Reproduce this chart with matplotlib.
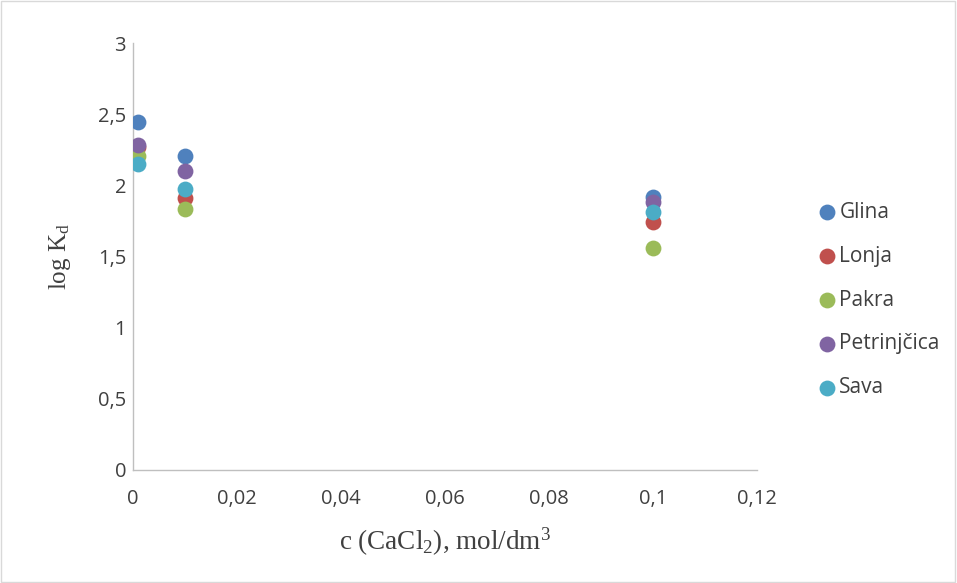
import matplotlib
matplotlib.use('Agg')
import matplotlib.pyplot as plt
from matplotlib.patches import Rectangle
from matplotlib.ticker import FuncFormatter

plt.rcParams['mathtext.fontset'] = 'custom'
plt.rcParams['mathtext.rm'] = 'Liberation Serif'
plt.rcParams['mathtext.it'] = 'Liberation Serif:italic'

# koncentracije CaCl2
c = [0.001, 0.01, 0.1]

glina = [2.445, 2.21, 1.92]
lonja = [2.27, 1.91, 1.74]
pakra = [2.205, 1.835, 1.56]
petrinjcica = [2.285, 2.10, 1.885]
sava = [2.15, 1.972, 1.81]

nazivi = ['Glina', 'Lonja', 'Pakra', 'Petrinjčica', 'Sava']
serije = [glina, lonja, pakra, petrinjcica, sava]
boje = ['#4F81BD', '#C0504D', '#9BBB59', '#8064A2', '#4BACC6']

fig = plt.figure(figsize=(9.57, 5.83), dpi=100)
ax = fig.add_axes([0.139, 0.194, 0.652, 0.732])

for naziv, vrijednosti, boja in zip(nazivi, serije, boje):
    ax.scatter(c, vrijednosti, s=130, color=boja, label=naziv, zorder=3, linewidths=0)

ax.set_xlim(0, 0.12)
ax.set_ylim(0, 3)
ax.set_xticks([0, 0.02, 0.04, 0.06, 0.08, 0.1, 0.12])
ax.set_yticks([0, 0.5, 1, 1.5, 2, 2.5, 3])

def zarez(v, pos):
    s = ('%g' % round(v, 4))
    return s.replace('.', ',')

ax.xaxis.set_major_formatter(FuncFormatter(zarez))
ax.yaxis.set_major_formatter(FuncFormatter(zarez))

for s in ['top', 'right']:
    ax.spines[s].set_visible(False)
for s in ['left', 'bottom']:
    ax.spines[s].set_color('#BFBFBF')
    ax.spines[s].set_linewidth(1)
ax.tick_params(length=0, labelsize=14.5, labelcolor='#404040')
ax.tick_params(axis='x', pad=14)
ax.tick_params(axis='y', pad=5)
for lbl in ax.get_xticklabels() + ax.get_yticklabels():
    lbl.set_family('Open Sans')

ax.set_xlabel('c (CaCl$_2$), mol/dm$^3$', family='Liberation Serif', fontsize=19.5, color='#404040', labelpad=12)
ax.set_ylabel('log K$_\\mathrm{d}$', family='Liberation Serif', fontsize=18, color='#404040', labelpad=18)

leg = ax.legend(loc='center left', bbox_to_anchor=(1.092, 0.398), frameon=False,
                prop={'family': 'Open Sans', 'size': 15}, labelspacing=1.1,
                handletextpad=0.0, handlelength=1.2, markerscale=1.0,
                borderaxespad=0, borderpad=0)
for t in leg.get_texts():
    t.set_color('#404040')

fig.patches.append(Rectangle((0.001, 0.001), 0.997, 0.997, transform=fig.transFigure,
                             fill=False, edgecolor='#D9D9D9', linewidth=1))

fig.savefig('out.png', dpi=100)
